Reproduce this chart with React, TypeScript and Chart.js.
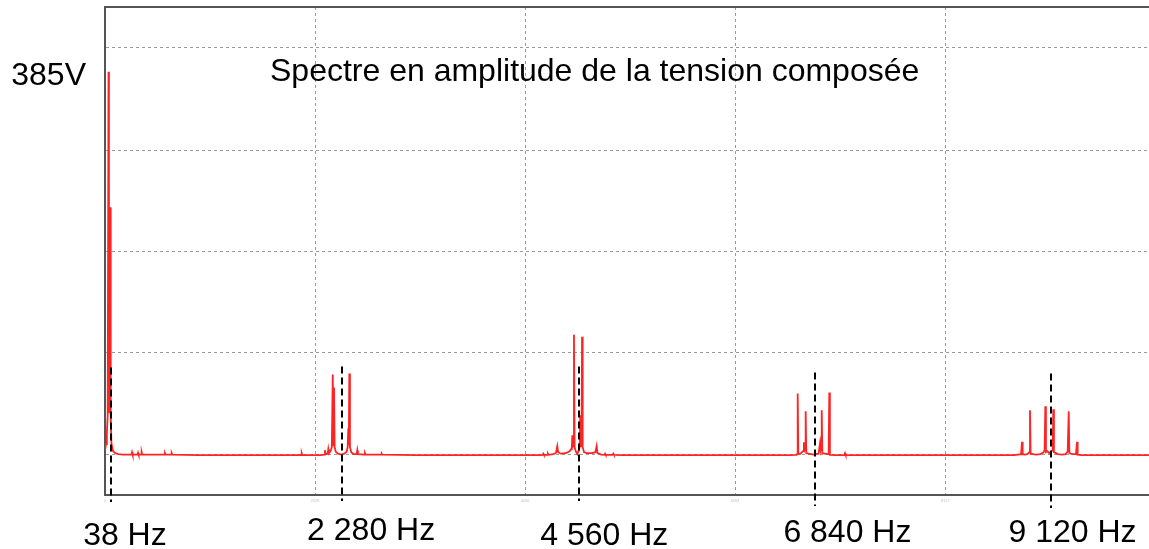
import React, { useEffect, useRef } from "react";
import { Chart, registerables } from "chart.js";

Chart.register(...registerables);

// ---- Data ----
const titleText = "Spectre en amplitude de la tension composée";
const peakValue = 385;
const peakLabel = "385V";

// Spectrum polyline: frequency (Hz) and amplitude (V)
const specFreq = [
  0, 10, 18, 26, 34, 38, 44, 50, 55, 62, 78, 100, 130, 170,
  255, 261, 267, 313, 319, 325, 348, 354, 360, 450, 573, 579, 585, 638, 644, 650, 900, 1893, 1899, 1905,
  2080, 2118, 2124, 2130, 2150, 2156, 2162, 2178, 2190, 2199, 2205, 2211, 2217, 2228, 2250, 2280, 2310,
  2333, 2343, 2349, 2354, 2359, 2365, 2378, 2400, 2430, 2436, 2442, 2504, 2510, 2516, 2666, 2672, 2678, 3000,
  4200, 4226, 4232, 4238, 4271, 4277, 4283, 4330, 4355, 4367, 4375, 4400, 4450, 4485, 4500, 4507, 4512, 4518,
  4523, 4528, 4534, 4545, 4560, 4572, 4583, 4589, 4596, 4601, 4606, 4612, 4625, 4650, 4700, 4735, 4747, 4755,
  4790, 4822, 4828, 4834, 4902, 4908, 4914, 5000,
  6600, 6676, 6682, 6688, 6694, 6715, 6740, 6748, 6756, 6760, 6765, 6771, 6790, 6820, 6840, 6860, 6890, 6905,
  6912, 6916, 6920, 6926, 6950, 6975, 6987, 6993, 6999, 7050, 7139, 7145, 7151, 7500,
  8780, 8845, 8854, 8860, 8880, 8905, 8925, 8931, 8937, 8960, 8990, 9030, 9060, 9072, 9079, 9085, 9100, 9117,
  9140, 9150, 9156, 9162, 9200, 9240, 9275, 9295, 9305, 9311, 9340, 9375, 9385, 9391, 9430, 10080,
];
const specAmp = [
  5, 11, 22, 40, 385, 60, 42, 249, 40, 12, 4, 2, 1, 0.5,
  0.5, 3, 0.5, 0.5, 2.5, 0.5, 0.5, 3, 0.5, 0.5, 0.5, 2, 0.5, 0.5, 2, 0.5, 0, 0, 2, 0,
  0, 0.5, 5, 1, 1.5, 6, 2, 4, 8, 81, 10, 68, 8, 3.5, 1.5, 0.5, 1.5,
  3.5, 8, 27, 10, 82, 8, 3, 1, 1, 5, 1, 0.5, 2, 0.5, 0.5, 1.5, 0.5, 0,
  0, 0.3, 1.5, 0.3, 0.3, 1.5, 0.3, 1, 2.5, 9, 3, 1.5, 2, 4, 6, 8, 20, 9,
  10, 121, 8, 4, 1, 4, 8, 40, 9, 10, 119, 8, 3, 2, 2, 3, 9, 2,
  0.5, 0.3, 1.5, 0.3, 0.3, 1.5, 0.3, 0,
  0, 0.3, 1, 62, 1, 1.5, 4, 13, 7, 9, 44, 2, 1.5, 1, 0.5, 1, 1.5, 13,
  7, 9, 45, 2, 1.5, 1, 1, 63, 0.3, 0, 0.3, 2, 0.3, 0,
  0, 1, 13.5, 1, 0.5, 1, 3, 45, 1.5, 1, 0.5, 1, 2.5, 5, 49, 3, 4, 2,
  4, 5, 46, 3, 1, 0.5, 1, 4, 44, 2, 1, 1, 13.5, 0.5, 0, 0,
];

// Dashed markers and their labels
const markerFreq = [38, 2280, 4560, 6840, 9120];
const markerLabel = ["38 Hz", "2 280 Hz", "4 560 Hz", "6 840 Hz", "9 120 Hz"];
const markerTop = [88, 89, 89, 83, 82];

// Axis grid ticks
const xGridTicks = [0, 2028, 4056, 6084, 8112];
const yGridTicks = [1, 103, 204, 306, 409];

// ---- Style ----
const FONT = '"Liberation Sans", Arial, sans-serif';
const markerDx = [2, 1, 1.5, 2, 1];
const markerTail = [7, 6, 6, 11, 13];
const labelDx = [16, 30, 27, 34, 23];
const labelDy = [50, 45, 50, 47, 47];
const GRID = "#9a9a9a";
const FRAME = "#555555";

const annotPlugin = {
  id: "annot",
  afterDatasetsDraw(chart: any) {
    const { ctx, chartArea, scales } = chart;
    const xs = scales.x;
    const ys = scales.y;
    ctx.save();
    ctx.strokeStyle = "#000";
    ctx.lineWidth = 2;
    ctx.setLineDash([7, 4]);
    markerFreq.forEach((f, i) => {
      const px = Math.round(xs.getPixelForValue(f) + markerDx[i]);
      ctx.beginPath();
      ctx.moveTo(px, ys.getPixelForValue(markerTop[i]));
      ctx.lineTo(px, chartArea.bottom + markerTail[i]);
      ctx.stroke();
    });
    ctx.setLineDash([]);
    ctx.fillStyle = "#000";
    ctx.font = `32px ${FONT}`;
    ctx.textAlign = "center";
    ctx.textBaseline = "alphabetic";
    markerLabel.forEach((t, i) => {
      ctx.fillText(t, xs.getPixelForValue(markerFreq[i]) + labelDx[i], chartArea.bottom + labelDy[i]);
    });
    ctx.textAlign = "left";
    ctx.fillText(titleText, chartArea.left + 165, chartArea.top + 74);
    ctx.restore();
  },
};

export default function App() {
  const ref = useRef<HTMLCanvasElement | null>(null);

  useEffect(() => {
    document.body.style.margin = "0";
    document.body.style.overflow = "hidden";
    const canvas = ref.current;
    if (!canvas) return;
    const chart = new Chart(canvas, {
      type: "line",
      data: {
        datasets: [
          {
            data: specFreq.map((f, i) => ({ x: f, y: specAmp[i] })),
            borderColor: "rgb(255,35,35)",
            borderWidth: 1.8,
            pointRadius: 0,
            tension: 0,
            fill: false,
          },
        ],
      },
      options: {
        animation: false,
        responsive: false,
        devicePixelRatio: 1,
        layout: { padding: 0 },
        plugins: {
          legend: { display: false },
          tooltip: { enabled: false },
          title: { display: false },
        },
        scales: {
          x: {
            type: "linear",
            position: "bottom",
            min: 0,
            max: 10080,
            afterBuildTicks: (s: any) => {
              s.ticks = xGridTicks.map((v) => ({ value: v }));
            },
            afterFit: (s: any) => {
              s.height = 54;
            },
            grid: { color: GRID, lineWidth: 1, drawTicks: false },
            border: { display: true, color: FRAME, width: 2, dash: [3, 3] },
            ticks: {
              autoSkip: false,
              maxRotation: 0,
              padding: 3,
              color: "#c4c4c4",
              font: { size: 4, family: FONT },
              callback: (v: any) => String(v),
            },
          },
          xTop: {
            type: "linear",
            position: "top",
            min: 0,
            max: 1,
            afterFit: (s: any) => {
              s.height = 7;
            },
            grid: { display: false, drawOnChartArea: false, drawTicks: false },
            border: { display: true, color: FRAME, width: 2 },
            ticks: { display: false },
          },
          y: {
            type: "linear",
            position: "left",
            min: -40,
            max: 450,
            afterBuildTicks: (s: any) => {
              s.ticks = [...yGridTicks, peakValue].sort((a, b) => a - b).map((v) => ({ value: v }));
            },
            afterFit: (s: any) => {
              s.width = 105;
            },
            grid: {
              color: (c: any) => (c.tick && c.tick.value === peakValue ? "rgba(0,0,0,0)" : GRID),
              lineWidth: 1,
              drawTicks: true,
              tickLength: 19,
              tickColor: "rgba(0,0,0,0)",
            },
            border: { display: true, color: FRAME, width: 2, dash: [3, 3] },
            ticks: {
              autoSkip: false,
              padding: 0,
              labelOffset: 4,
              color: "#000",
              font: (c: any) =>
                c.tick && c.tick.value === peakValue
                  ? { size: 32, family: FONT }
                  : { size: 1, family: FONT },
              callback: (v: any) => (v === peakValue ? peakLabel : ""),
            },
          },
        },
      },
      plugins: [annotPlugin],
    } as any);
    return () => chart.destroy();
  }, []);

  return (
    <div style={{ width: 1149, height: 549 }}>
      <canvas ref={ref} width={1149} height={549} style={{ display: "block" }} />
    </div>
  );
}
